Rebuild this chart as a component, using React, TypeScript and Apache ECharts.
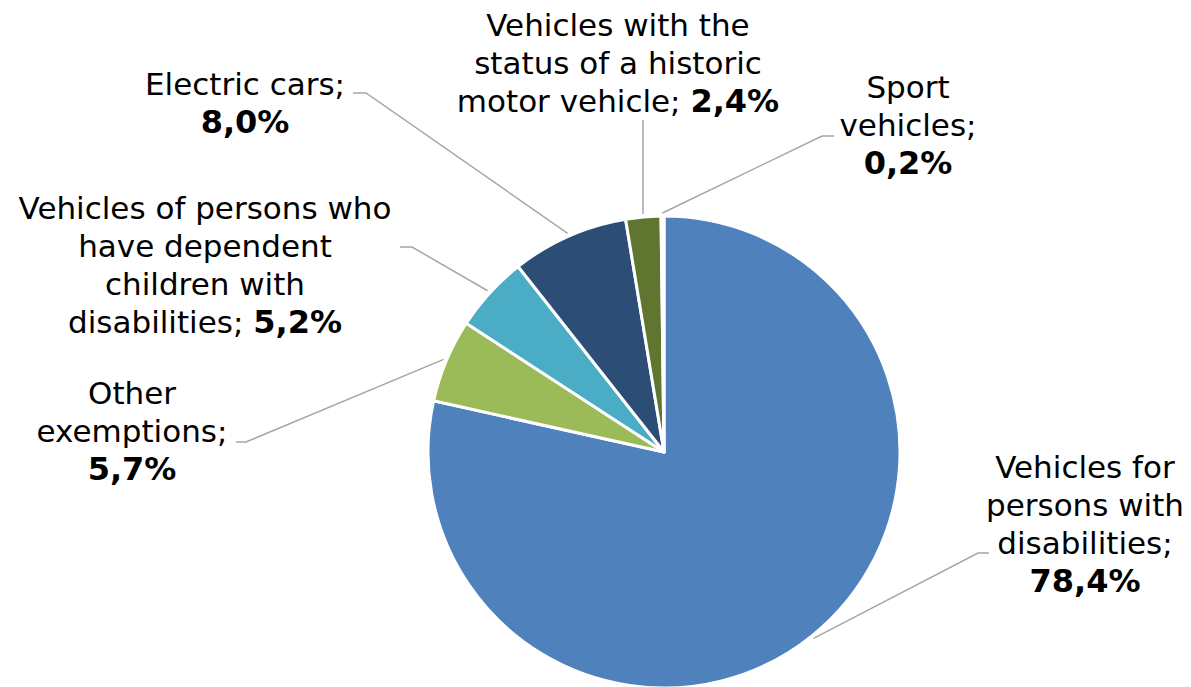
import React, { useEffect, useRef } from "react";
import * as echarts from "echarts";

const categories = [
  "Vehicles for persons with disabilities",
  "Other exemptions",
  "Vehicles of persons who have dependent children with disabilities",
  "Electric cars",
  "Vehicles with the status of a historic motor vehicle",
  "Sport vehicles",
];
const values = [78.4, 5.7, 5.2, 8.0, 2.4, 0.2];
const labelLinesText = [
  ["Vehicles for", "persons with", "disabilities;"],
  ["Other", "exemptions;"],
  ["Vehicles of persons who", "have dependent", "children with", "disabilities;"],
  ["Electric cars;"],
  ["Vehicles with the", "status of a historic", "motor vehicle;"],
  ["Sport", "vehicles;"],
];
// whether the value sits on the last name line (true) or its own line (false)
const valueInline = [false, false, true, false, true, false];
const colors = ["#4F81BD", "#9BBB59", "#4BACC6", "#2C4D75", "#5F7530", "#276A7C"];

// label layout: center x, center y of text block, elbow point, end point
const labelPos = [
  { x: 1085, y: 524, elbow: [978, 553], end: [989, 553] },
  { x: 132, y: 431, elbow: [246, 442], end: [236, 442] },
  { x: 205, y: 265, elbow: [412, 247], end: [400, 247] },
  { x: 245, y: 103, elbow: [366, 93], end: [353, 93] },
  { x: 618, y: 63, elbow: [643, 120], end: [643, 120] },
  { x: 908, y: 125, elbow: [822, 136], end: [834, 136] },
];

const fmt = (v: number) => v.toFixed(1).replace(".", ",") + "%";

export default function App() {
  const ref = useRef<HTMLDivElement>(null);
  useEffect(() => {
    if (!ref.current) return;
    const chart = echarts.init(ref.current, null, { renderer: "svg" });
    const cx = 664, cy = 452, r = 236;
    chart.setOption({
      animation: false,
      backgroundColor: "#ffffff",
      series: [
        {
          type: "pie",
          center: [cx, cy],
          radius: r,
          startAngle: 90,
          clockwise: true,
          avoidLabelOverlap: false,
          itemStyle: { borderColor: "#ffffff", borderWidth: 3 },
          data: categories.map((name, i) => ({
            name,
            value: values[i],
            itemStyle: { color: colors[i] },
          })),
          label: {
            show: true,
            position: "outside",
            formatter: (p: any) => {
              const i = p.dataIndex;
              const lines = labelLinesText[i].map((s) => `{n|${s}}`);
              const v = `{b|${fmt(values[i])}}`;
              if (valueInline[i]) {
                lines[lines.length - 1] = lines[lines.length - 1] + `{n| }` + v;
              } else {
                lines.push(v);
              }
              return lines.join("\n");
            },
            align: "center",
            rich: {
              n: {
                fontFamily: "DejaVu Sans",
                fontSize: 31,
                lineHeight: 38,
                color: "#000000",
              },
              b: {
                fontFamily: "DejaVu Sans",
                fontSize: 32,
                lineHeight: 38,
                fontWeight: "bold",
                color: "#000000",
              },
            },
          },
          labelLine: {
            show: true,
            lineStyle: { color: "#A6A6A6", width: 1.5 },
          },
          labelLayout: (params: any) => {
            const i = params.dataIndex;
            const pos = labelPos[i];
            const p0 = params.labelLinePoints
              ? params.labelLinePoints[0]
              : [cx, cy];
            const dx = p0[0] - cx, dy = p0[1] - cy;
            const d = Math.sqrt(dx * dx + dy * dy) || 1;
            const start = [cx + (dx / d) * (r + 3), cy + (dy / d) * (r + 3)];
            return {
              x: pos.x,
              y: pos.y,
              align: "center",
              verticalAlign: "middle",
              labelLinePoints: [start, pos.elbow, pos.end],
            };
          },
        },
      ],
    });
    return () => chart.dispose();
  }, []);
  return (
    <div
      ref={ref}
      style={{ position: "fixed", left: 0, top: 0, width: 1191, height: 687 }}
    />
  );
}
